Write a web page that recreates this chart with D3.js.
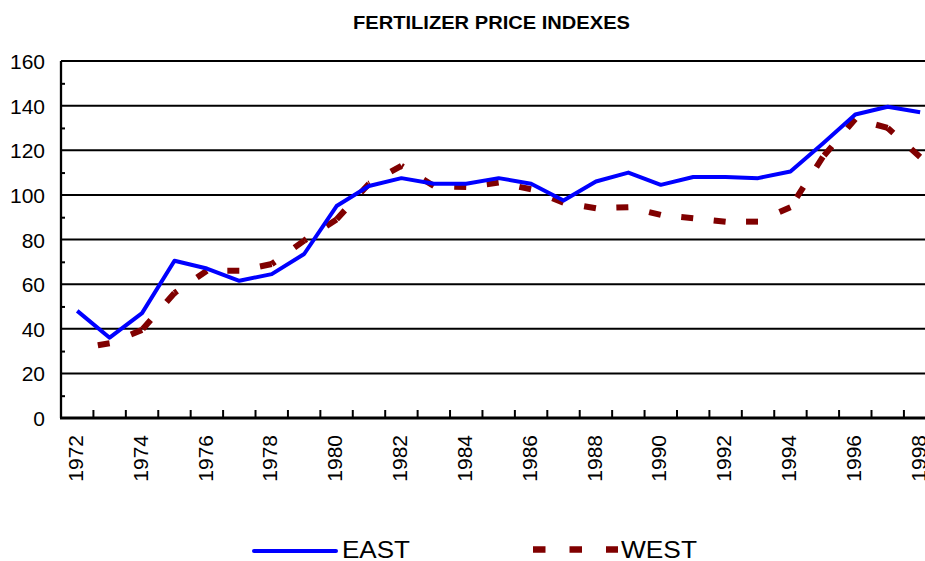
<!DOCTYPE html>
<html>
<head>
<meta charset="utf-8">
<script src="https://cdn.jsdelivr.net/npm/d3@7"></script>
<style>
  body { margin: 0; background: #fff; }
  text { font-family: "Liberation Sans", Arial, sans-serif; fill: #000; }
</style>
</head>
<body>
<div id="chart"></div>
<script>
// chart values
var years = [1972, 1973, 1974, 1975, 1976, 1977, 1978, 1979, 1980, 1981, 1982, 1983, 1984, 1985,
             1986, 1987, 1988, 1989, 1990, 1991, 1992, 1993, 1994, 1995, 1996, 1997, 1998];
var east = [48, 36, 47, 70.5, 67, 61.5, 64.5, 73.5, 95, 104, 107.5, 105, 105, 107.5,
            105, 97.5, 106, 110, 104.5, 108, 108, 107.5, 110.5, 123, 136, 139.5, 137];
var west = [31, 33.5, 39.5, 56, 66, 66, 69, 79.5, 89, 105, 113, 104, 103.5, 105.5,
            102.5, 96.5, 94, 94.5, 91, 89.5, 88, 88, 94.5, 117, 134, 130, 117];
var yTicks = [0, 20, 40, 60, 80, 100, 120, 140, 160];
var yMinor = [10, 30, 50, 70, 90, 110, 130, 150];
var xLabels = years.filter(function(d) { return d % 2 === 0; });
var seriesNames = ['EAST', 'WEST'];

var W = 925, H = 561;
var plot = { left: 61, top: 61, bottom: 418, step: 32.42 };

var x = d3.scaleBand().domain(years).range([plot.left, plot.left + years.length * plot.step]);
var y = d3.scaleLinear().domain([0, 160]).range([plot.bottom, plot.top]);
var cx = function(d) { return x(d) + x.bandwidth() / 2; };

var svg = d3.select('#chart').append('svg')
    .attr('width', W)
    .attr('height', H);

svg.append('rect').attr('width', W).attr('height', H).style('fill', '#fff');

// title
svg.append('text')
    .attr('x', 491.5)
    .attr('y', 29)
    .attr('text-anchor', 'middle')
    .attr('textLength', 277)
    .attr('lengthAdjust', 'spacingAndGlyphs')
    .style('font-size', '18.6px')
    .style('font-weight', 'bold')
    .text('FERTILIZER PRICE INDEXES');

// gridlines
svg.append('g').selectAll('line')
    .data(yTicks.slice(1))
    .join('line')
    .attr('x1', plot.left).attr('x2', W)
    .attr('y1', function(d) { return y(d); })
    .attr('y2', function(d) { return y(d); })
    .style('stroke', '#000')
    .style('stroke-width', 2);

// y axis labels
var yAxis = svg.append('g')
    .attr('transform', 'translate(' + plot.left + ',0)')
    .call(d3.axisLeft(y).tickValues(yTicks).tickSize(0).tickPadding(16));
yAxis.select('.domain').remove();
yAxis.selectAll('text').style('font-size', '21px').attr('dy', '0.36em');

// y minor ticks (inside)
var yMinorAxis = svg.append('g')
    .attr('transform', 'translate(' + plot.left + ',0)')
    .call(d3.axisRight(y).tickValues(yMinor).tickSize(4).tickFormat(''));
yMinorAxis.select('.domain').remove();
yMinorAxis.selectAll('line').style('stroke', '#000').style('stroke-width', 2);

// x tick marks between categories
svg.append('g').selectAll('line')
    .data(years.slice(1))
    .join('line')
    .attr('x1', function(d) { return x(d); })
    .attr('x2', function(d) { return x(d); })
    .attr('y1', plot.bottom)
    .attr('y2', plot.bottom - 8)
    .style('stroke', '#000')
    .style('stroke-width', 2);

// x labels
var xAxis = svg.append('g')
    .attr('transform', 'translate(0,' + plot.bottom + ')')
    .call(d3.axisBottom(x).tickValues(xLabels).tickSize(0));
xAxis.select('.domain').remove();
xAxis.selectAll('text')
    .attr('transform', 'rotate(-90)')
    .attr('text-anchor', 'end')
    .attr('x', -17)
    .attr('y', 0)
    .attr('dy', '0.27em')
    .style('font-size', '21px');

// axis lines
svg.append('line')
    .attr('x1', plot.left).attr('x2', plot.left)
    .attr('y1', plot.top).attr('y2', plot.bottom)
    .style('stroke', '#000').style('stroke-width', 2.3);
svg.append('line')
    .attr('x1', plot.left - 1).attr('x2', W)
    .attr('y1', plot.bottom).attr('y2', plot.bottom)
    .style('stroke', '#000').style('stroke-width', 2.8);

var line = d3.line()
    .x(function(d) { return cx(d[0]); })
    .y(function(d) { return y(d[1]); });

// WEST: each segment dashed from its right end
var westPts = years.map(function(d, i) { return [d, west[i]]; });
svg.append('g').selectAll('path')
    .data(d3.pairs(westPts))
    .join('path')
    .attr('d', function(p) { return line([p[1], p[0]]); })
    .style('fill', 'none')
    .style('stroke', '#800000')
    .style('stroke-width', 6)
    .style('stroke-dasharray', '12 24');

// EAST
svg.append('path')
    .attr('d', line(years.map(function(d, i) { return [d, east[i]]; })))
    .style('fill', 'none')
    .style('stroke', '#0000ff')
    .style('stroke-width', 4)
    .style('stroke-linejoin', 'round');

// legend
var legend = svg.append('g');
legend.append('line')
    .attr('x1', 254).attr('x2', 336).attr('y1', 551).attr('y2', 551)
    .style('stroke', '#0000ff').style('stroke-width', 4).style('stroke-linecap', 'round');
legend.append('text')
    .attr('x', 342).attr('y', 557.5)
    .attr('textLength', 68).attr('lengthAdjust', 'spacingAndGlyphs')
    .style('font-size', '23px')
    .text(seriesNames[0]);
legend.append('line')
    .attr('x1', 533).attr('x2', 618).attr('y1', 549.5).attr('y2', 549.5)
    .style('stroke', '#800000').style('stroke-width', 6.5).style('stroke-dasharray', '12.5 24');
legend.append('text')
    .attr('x', 621).attr('y', 557.5)
    .attr('textLength', 76).attr('lengthAdjust', 'spacingAndGlyphs')
    .style('font-size', '23px')
    .text(seriesNames[1]);
</script>
</body>
</html>
